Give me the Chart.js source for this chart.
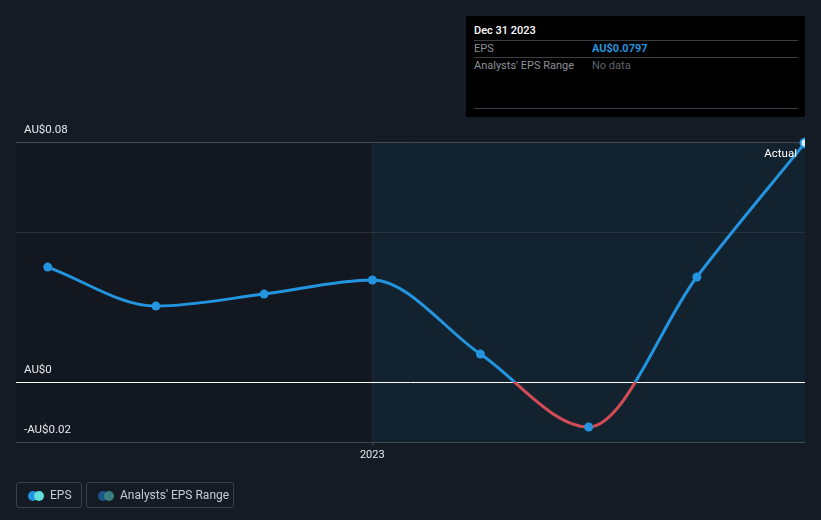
<!DOCTYPE html>
<html>
<head>
<meta charset="utf-8">
<script src="https://cdn.jsdelivr.net/npm/chart.js@4/dist/chart.umd.min.js"></script>
<style>
  body { margin: 0; background: #151b24; font-family: Roboto, sans-serif; }
  #wrap { position: relative; width: 821px; height: 520px; }
  canvas { position: absolute; left: 0; top: 0; }
  .tip { position: absolute; left: 466px; top: 16px; width: 339px; height: 101px; background: #000; }
  .tip .row { position: absolute; left: 8px; width: 324px; font-size: 11px; }
  .tip .hr { position: absolute; left: 8px; width: 324px; height: 1px; background: #3a3d42; }
  .tip .v { position: absolute; left: 118px; }
  .legend { position: absolute; top: 482px; height: 26px; border: 1px solid #3b414b; border-radius: 3px;
            box-sizing: border-box; color: #c8ccd2; font-size: 12px; line-height: 24px; }
  .dot { position: absolute; top: 8px; width: 10px; height: 10px; border-radius: 50%; }
</style>
</head>
<body>
<div id="wrap">
  <canvas id="epsChart" width="821" height="520"></canvas>
  <div class="tip">
    <div class="row" style="top:8px;color:#fff;font-weight:500">Dec 31 2023</div>
    <div class="hr" style="top:24px"></div>
    <div class="row" style="top:26px;color:#8b9097">EPS<span class="v" style="color:#2394df;font-weight:700">AU$0.0797</span></div>
    <div class="hr" style="top:41px"></div>
    <div class="row" style="top:43px;color:#8b9097">Analysts' EPS Range<span class="v" style="color:#5f646b">No data</span></div>
    <div class="hr" style="top:92px"></div>
  </div>
  <div class="legend" style="left:16px;width:66px">
    <span class="dot" style="left:11px;background:#2394df"></span>
    <span class="dot" style="left:17px;background:#5fe0d8"></span>
    <span style="position:absolute;left:33px">EPS</span>
  </div>
  <div class="legend" style="left:86px;width:148px">
    <span class="dot" style="left:11px;background:#1d5688"></span>
    <span class="dot" style="left:17px;background:#3b7e80"></span>
    <span style="position:absolute;left:33px">Analysts' EPS Range</span>
  </div>
</div>
<script>
// months since Dec 31 2021
const months = [3, 6, 9, 12, 15, 18, 21, 24];
const eps = [0.0383, 0.0253, 0.0293, 0.0340, 0.0093, -0.0150, 0.0350, 0.0797];
const yTicks = [-0.02, 0, 0.05, 0.08];
const yLabels = { '-0.02': '-AU$0.02', '0': 'AU$0', '0.08': 'AU$0.08' };
const xTick = 12;
const xTickLabel = '2023';

const BLUE = '#2394df';
const RED = '#d24b55';

function lineColor(ctx) {
  const chart = ctx.chart;
  const area = chart.chartArea;
  if (!area) return BLUE;
  const y0 = chart.scales.y.getPixelForValue(0);
  const g = chart.ctx.createLinearGradient(0, area.top, 0, area.bottom);
  const s = Math.min(Math.max((y0 - area.top) / (area.bottom - area.top), 0), 1);
  g.addColorStop(0, BLUE);
  g.addColorStop(s, BLUE);
  g.addColorStop(s, RED);
  g.addColorStop(1, RED);
  return g;
}

const backdrop = {
  id: 'backdrop',
  beforeDatasetsDraw(chart) {
    const { ctx, chartArea: a, scales: { x, y } } = chart;
    const xs = x.getPixelForValue(xTick);
    ctx.save();
    ctx.fillStyle = '#13171f';
    ctx.fillRect(a.left, a.top, xs - a.left, a.bottom - a.top);
    ctx.fillStyle = '#13222f';
    ctx.fillRect(xs, a.top, a.right - xs, a.bottom - a.top);
    ctx.strokeStyle = '#232c37';
    ctx.lineWidth = 1;
    ctx.beginPath();
    ctx.moveTo(xs + 0.5, a.top); ctx.lineTo(xs + 0.5, a.bottom);
    ctx.stroke();
    yTicks.forEach(v => {
      const py = Math.round(y.getPixelForValue(v)) + 0.5;
      ctx.strokeStyle = v === 0 ? '#ffffff' : (v === 0.05 ? '#2b323c' : '#454a52');
      ctx.beginPath();
      ctx.moveTo(a.left, py); ctx.lineTo(a.right, py);
      ctx.stroke();
      const lbl = yLabels[String(v)];
      if (lbl) {
        ctx.fillStyle = '#e6e8eb';
        ctx.font = '11.5px Roboto, sans-serif';
        ctx.textBaseline = 'middle';
        ctx.fillText(lbl, a.left + 8, py - 12);
      }
    });
    // x tick
    ctx.strokeStyle = '#454a52';
    ctx.beginPath();
    ctx.moveTo(xs + 0.5, a.bottom); ctx.lineTo(xs + 0.5, a.bottom + 4);
    ctx.stroke();
    ctx.fillStyle = '#e6e8eb';
    ctx.font = '11px Roboto, sans-serif';
    ctx.textAlign = 'center';
    ctx.textBaseline = 'middle';
    ctx.fillText(xTickLabel, xs, a.bottom + 13);
    ctx.restore();
  },
  afterDatasetsDraw(chart) {
    const { ctx, chartArea: a } = chart;
    ctx.save();
    ctx.fillStyle = '#ffffff';
    ctx.font = '11.5px Roboto, sans-serif';
    ctx.textAlign = 'right';
    ctx.textBaseline = 'middle';
    ctx.fillText('Actual', a.right - 8, a.top + 12);
    ctx.restore();
  }
};

const chart = new Chart(document.getElementById('epsChart').getContext('2d'), {
  type: 'line',
  data: {
    labels: months,
    datasets: [{
      label: 'EPS',
      data: months.map((m, i) => ({ x: m, y: eps[i] })),
      borderColor: lineColor,
      borderWidth: 3,
      cubicInterpolationMode: 'monotone',
      clip: { left: 10, top: 10, right: 0, bottom: 10 },
      pointRadius: 4.5,
      pointBackgroundColor: eps.map((v, i) => i === eps.length - 1 ? '#dceefb' : BLUE),
      pointBorderColor: BLUE,
      pointBorderWidth: eps.map((v, i) => i === eps.length - 1 ? 2 : 0),
      fill: false
    }]
  },
  options: {
    responsive: false,
    animation: false,
    events: [],
    layout: { padding: { left: 16, right: 16, top: 142, bottom: 78 } },
    plugins: { legend: { display: false }, tooltip: { enabled: false } },
    scales: {
      x: { type: 'linear', min: 2.12, max: 24, display: false },
      y: { min: -0.02, max: 0.08, display: false }
    }
  },
  plugins: [backdrop]
});
</script>
</body>
</html>
